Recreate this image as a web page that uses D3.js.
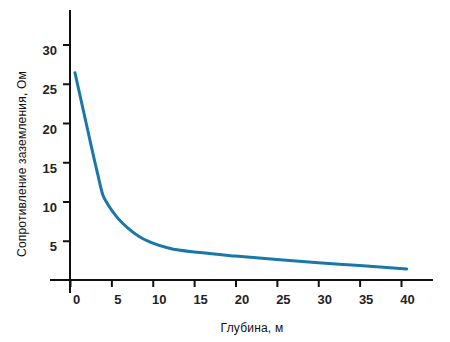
<!DOCTYPE html>
<html><head><meta charset="utf-8">
<script src="https://cdn.jsdelivr.net/npm/d3@7"></script>
<style>body{margin:0;background:#fff}svg{display:block}</style>
</head><body>
<svg id="c" width="450" height="342"></svg>
<script>
const depth = [0.6, 2.2, 3.3, 3.95, 4.6, 5.6, 7.0, 8.4, 10.0, 12.0, 15.7, 20.0, 25.0, 30.0, 35.0, 40.7];
const resistance = [26.4, 18.8, 13.7, 10.9, 9.6, 8.1, 6.6, 5.5, 4.7, 4.05, 3.5, 3.05, 2.6, 2.2, 1.85, 1.4];
const xTicks = [0, 5, 10, 15, 20, 25, 30, 35, 40];
const yTicks = [5, 10, 15, 20, 25, 30];
const xTitle = "Глубина, м";
const yTitle = "Сопротивление заземления, Ом";

const svg = d3.select("#c");
const font = "'Liberation Sans', Arial, sans-serif";
const x = d3.scaleLinear().domain([0, 40]).range([70, 401]);
const y = d3.scaleLinear().domain([0, 30]).range([280, 44.5]);

// axis lines
svg.append("line").attr("x1", 50).attr("x2", 433).attr("y1", y(0)).attr("y2", y(0))
  .attr("stroke", "#111").attr("stroke-width", 2);
svg.append("line").attr("x1", x(0)).attr("x2", x(0)).attr("y1", 10).attr("y2", 293)
  .attr("stroke", "#111").attr("stroke-width", 2);

const gx = svg.append("g").attr("transform", `translate(0,${y(0)})`)
  .call(d3.axisBottom(x).tickValues(xTicks).tickSize(7).tickSizeOuter(0));
gx.select(".domain").remove();
gx.selectAll(".tick line").attr("stroke", "#111").attr("stroke-width", 2);
gx.selectAll(".tick text").attr("font-family", font).attr("font-size", 13).attr("font-weight", "bold")
  .attr("fill", "#222").attr("dx", 6).attr("y", 14.5).attr("dy", "0.71em");

const gy = svg.append("g").attr("transform", `translate(${x(0)},0)`)
  .call(d3.axisLeft(y).tickValues(yTicks).tickSize(7).tickSizeOuter(0));
gy.select(".domain").remove();
gy.selectAll(".tick line").attr("stroke", "#111").attr("stroke-width", 2);
gy.selectAll(".tick text").attr("font-family", font).attr("font-size", 13).attr("font-weight", "bold")
  .attr("fill", "#222").attr("x", -13).attr("dy", "0.32em").attr("transform", "translate(0,6)");

// curve
const pts = depth.map((d, i) => [d, resistance[i]]);
svg.append("path").datum(pts)
  .attr("fill", "none").attr("stroke", "#1a78a8").attr("stroke-width", 3)
  .attr("stroke-linecap", "round").attr("stroke-linejoin", "round")
  .attr("d", d3.line().x(d => x(d[0])).y(d => y(d[1])).curve(d3.curveMonotoneX));

// titles
svg.append("text").attr("x", 252).attr("y", 332).attr("text-anchor", "middle")
  .attr("font-family", font).attr("font-size", 12).attr("letter-spacing", 0.2).attr("fill", "#111").text(xTitle);
svg.append("text").attr("transform", "translate(26,164) rotate(-90)").attr("text-anchor", "middle")
  .attr("font-family", font).attr("font-size", 12).attr("letter-spacing", 0.2).attr("fill", "#111").text(yTitle);
</script>
</body></html>
